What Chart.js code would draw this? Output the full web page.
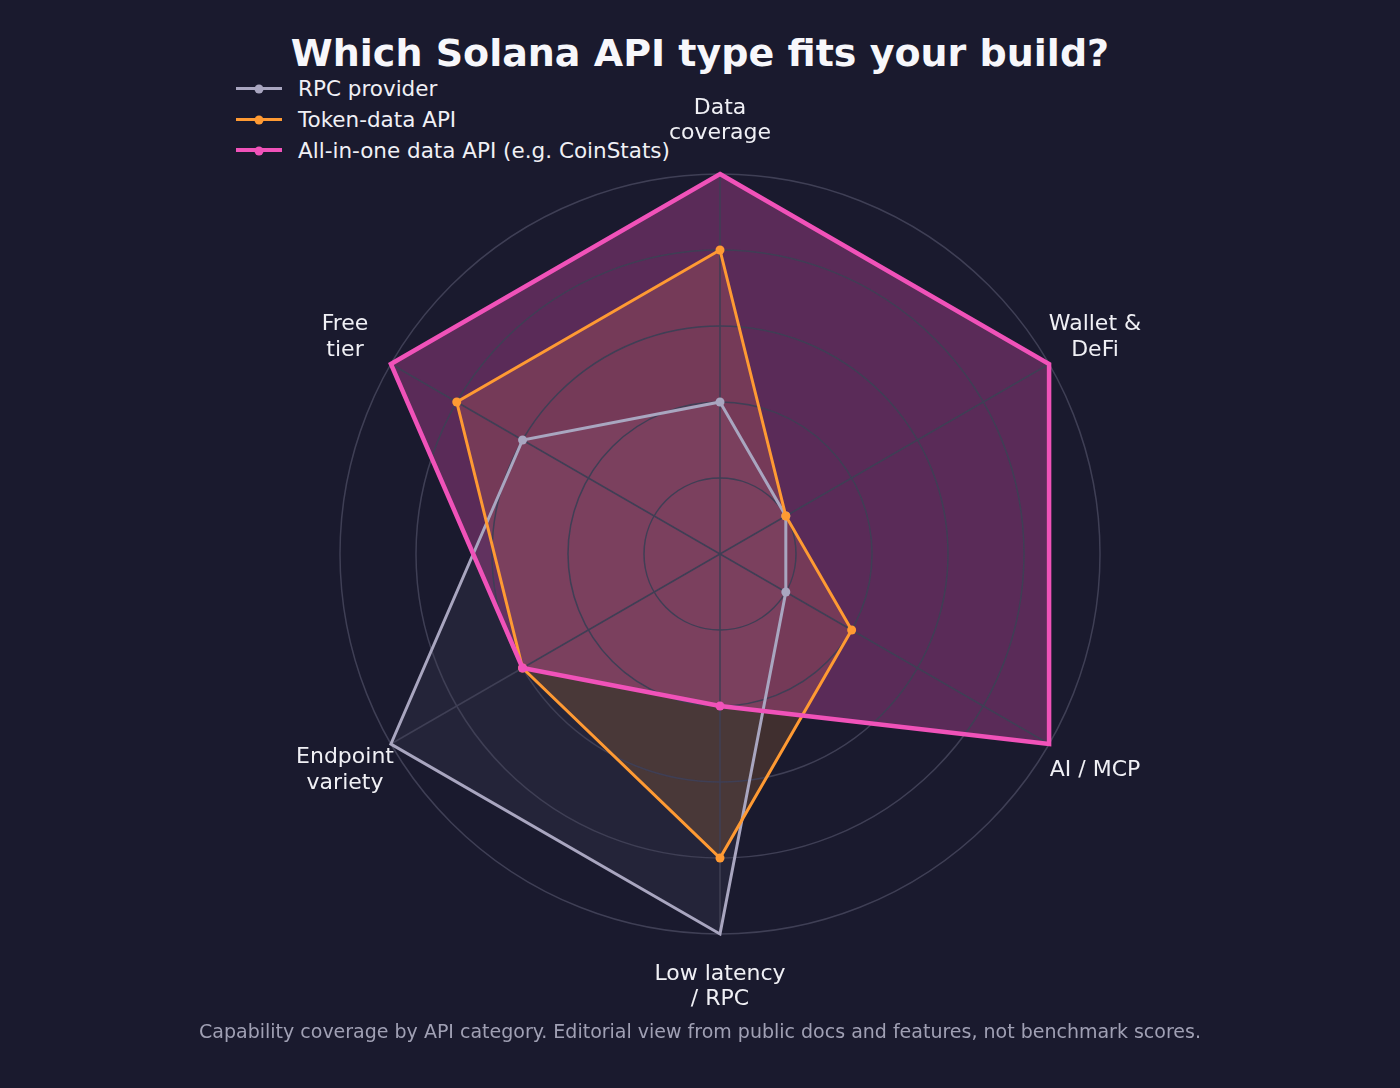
<!DOCTYPE html>
<html>
<head>
<meta charset="utf-8">
<script src="https://cdn.jsdelivr.net/npm/chart.js@4/dist/chart.umd.min.js"></script>
<style>
  html, body { margin: 0; padding: 0; background: #1a1a2e; }
  body { width: 1400px; height: 1088px; position: relative; overflow: hidden; font-family: "DejaVu Sans", sans-serif; }
  #chart { position: absolute; left: 0; top: 0; }
  h1 { position: absolute; top: 31px; left: 0; width: 1400px; margin: 0; text-align: center;
       color: #f7f7fb; font-size: 38px; font-weight: bold; }
  #legend { position: absolute; left: 236px; top: 73px; color: #f0f0f5; font-size: 21.5px; }
  .item { display: flex; align-items: center; height: 31px; }
  .swatch { position: relative; width: 46px; height: 10px; margin-right: 16px; }
  .swatch .ln { position: absolute; left: 0; right: 0; top: 50%; }
  .swatch .dot { position: absolute; left: 50%; top: 50%; width: 9px; height: 9px; border-radius: 50%;
                 transform: translate(-50%, -50%); }
  #note { position: absolute; left: 0; width: 1400px; top: 1020px; text-align: center; color: #a0a0b4; font-size: 19px; }
</style>
</head>
<body>
<h1>Which Solana API type fits your build?</h1>
<div id="legend"></div>
<canvas id="chart" width="1400" height="1088"></canvas>
<div id="note">Capability coverage by API category. Editorial view from public docs and features, not benchmark scores.</div>
<script>
// categories (clockwise from top)
const axes = [
    ['Data', 'coverage'],
    ['Wallet &', 'DeFi'],
    ['AI / MCP'],
    ['Low latency', '/ RPC'],
    ['Endpoint', 'variety'],
    ['Free', 'tier']
];

const seriesNames = ['RPC provider', 'Token-data API', 'All-in-one data API (e.g. CoinStats)'];
const rpcScores = [2, 1, 1, 5, 5, 3];
const tokenScores = [4, 1, 2, 4, 3, 4];
const allInOneScores = [5, 5, 5, 2, 3, 5];

const scaleMax = 5;

const styles = [
    { color: '#a9a6c0', fill: 'rgba(169, 166, 192, 0.08)', width: 3 },
    { color: '#ff9a33', fill: 'rgba(255, 154, 51, 0.17)', width: 3 },
    { color: '#f052b9', fill: 'rgba(240, 82, 185, 0.3)', width: 4.5 }
];

const seriesData = [rpcScores, tokenScores, allInOneScores];

// leyenda en HTML
const legend = document.getElementById('legend');
legend.innerHTML = seriesNames.map((name, i) => `
    <div class="item">
        <span class="swatch">
            <span class="ln" style="border-top:${styles[i].width}px solid ${styles[i].color};margin-top:-${styles[i].width / 2}px"></span>
            <span class="dot" style="background:${styles[i].color}"></span>
        </span>
        <span>${name}</span>
    </div>`).join('');

// etiquetas centradas alrededor del radar
const axisLabels = {
    id: 'axisLabels',
    afterDraw(chart) {
        const scale = chart.scales.r;
        const ctx = chart.ctx;
        const dist = scale.drawingArea * 433 / 380;
        ctx.save();
        ctx.font = '22px "DejaVu Sans"';
        ctx.fillStyle = '#f0f0f5';
        ctx.textAlign = 'center';
        ctx.textBaseline = 'middle';
        const lh = 25.5;
        axes.forEach((lines, i) => {
            const p = scale.getPointPosition(i, dist);
            const y0 = p.y - (lines.length - 1) * lh / 2;
            lines.forEach((t, j) => ctx.fillText(t, p.x, y0 + j * lh));
        });
        ctx.restore();
    }
};

new Chart(document.getElementById('chart'), {
    type: 'radar',
    data: {
        labels: axes.map(a => a.join(' ')),
        datasets: seriesData.map((vals, i) => ({
            label: seriesNames[i],
            data: vals,
            borderColor: styles[i].color,
            backgroundColor: styles[i].fill,
            borderWidth: styles[i].width,
            fill: true,
            tension: 0,
            clip: false,
            order: 2 - i,
            pointBackgroundColor: styles[i].color,
            pointBorderWidth: 0,
            pointRadius: ctx => (ctx.raw >= scaleMax ? 0 : 4.5),
            pointHoverRadius: 0
        }))
    },
    options: {
        responsive: false,
        animation: false,
        events: [],
        layout: { padding: { left: 340, right: 300, top: 174, bottom: 154 } },
        plugins: {
            legend: { display: false },
            tooltip: { enabled: false },
            filler: { drawTime: 'beforeDraw' }
        },
        scales: {
            r: {
                min: 0,
                max: scaleMax,
                ticks: { display: false, stepSize: 1 },
                pointLabels: { display: false },
                grid: { circular: true, color: '#3f3f55', lineWidth: 1.5 },
                angleLines: { color: '#3f3f55', lineWidth: 1.5 }
            }
        }
    },
    plugins: [axisLabels]
});
</script>
</body>
</html>
